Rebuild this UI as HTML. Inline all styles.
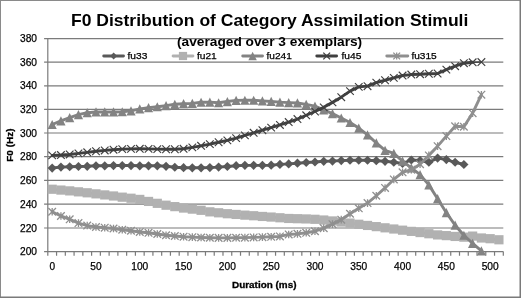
<!DOCTYPE html>
<html><head><meta charset="utf-8"><title>F0 Distribution of Category Assimilation Stimuli</title>
<style>
html,body{margin:0;padding:0;background:#fff;}
svg{display:block;}
text{font-family:"Liberation Sans",sans-serif;fill:#000;}
.t1{font-size:17px;font-weight:bold;}
.t2{font-size:13px;font-weight:bold;}
.ax{font-size:10.3px;stroke:#000;stroke-width:0.25px;}
.lg{font-size:9.9px;stroke:#000;stroke-width:0.25px;}
.at{font-size:9.5px;font-weight:bold;stroke:#000;stroke-width:0.3px;}
</style></head><body>
<svg width="521" height="298" viewBox="0 0 521 298">
<rect x="0" y="0" width="521" height="298" fill="#fff"/>
<g stroke="#7b7b7b" stroke-width="1.2" fill="none">
<path d="M44.1 38.7H503.3"/>
<path d="M44.1 62.2H503.3"/>
<path d="M44.1 85.8H503.3"/>
<path d="M44.1 109.4H503.3"/>
<path d="M44.1 133H503.3"/>
<path d="M44.1 156.6H503.3"/>
<path d="M44.1 180.3H503.3"/>
<path d="M44.1 204.1H503.3"/>
<path d="M44.1 228H503.3"/>
<path d="M44.1 251.6H503.3"/>
<path d="M47.8 38.6V251.6"/>
<path d="M47.8 251.6V255.8M56.56 251.6V255.8M65.32 251.6V255.8M74.08 251.6V255.8M82.84 251.6V255.8M91.6 251.6V255.8M100.36 251.6V255.8M109.12 251.6V255.8M117.88 251.6V255.8M126.64 251.6V255.8M135.4 251.6V255.8M144.16 251.6V255.8M152.92 251.6V255.8M161.68 251.6V255.8M170.43 251.6V255.8M179.19 251.6V255.8M187.95 251.6V255.8M196.71 251.6V255.8M205.47 251.6V255.8M214.23 251.6V255.8M222.99 251.6V255.8M231.75 251.6V255.8M240.51 251.6V255.8M249.27 251.6V255.8M258.03 251.6V255.8M266.79 251.6V255.8M275.55 251.6V255.8M284.31 251.6V255.8M293.07 251.6V255.8M301.83 251.6V255.8M310.59 251.6V255.8M319.35 251.6V255.8M328.11 251.6V255.8M336.87 251.6V255.8M345.63 251.6V255.8M354.39 251.6V255.8M363.15 251.6V255.8M371.91 251.6V255.8M380.67 251.6V255.8M389.43 251.6V255.8M398.18 251.6V255.8M406.94 251.6V255.8M415.7 251.6V255.8M424.46 251.6V255.8M433.22 251.6V255.8M441.98 251.6V255.8M450.74 251.6V255.8M459.5 251.6V255.8M468.26 251.6V255.8M477.02 251.6V255.8M485.78 251.6V255.8M494.54 251.6V255.8M503.3 251.6V255.8"/>
</g>
<polyline points="52.18,168.06 60.94,167.11 69.7,166.75 78.46,166.52 87.22,166.28 95.98,165.81 104.74,165.81 113.5,165.57 122.26,165.57 131.02,165.57 139.78,165.81 148.54,165.81 157.3,165.81 166.05,166.28 174.81,167.23 183.57,167.7 192.33,167.82 201.09,167.82 209.85,167.58 218.61,167.11 227.37,166.52 236.13,165.69 244.89,165.34 253.65,165.34 262.41,165.34 271.17,165.22 279.93,164.39 288.69,163.91 297.45,163.21 306.21,162.49 314.97,162.02 323.73,161.31 332.49,161.07 341.25,160.6 350.01,160.25 358.77,160.25 367.53,160.25 376.29,160.72 385.05,161.31 393.8,162.26 402.56,163.44 411.32,160.01 420.08,160.48 428.84,162.26 437.6,158.12 446.36,159.54 455.12,162.26 463.88,164.51" fill="none" stroke="#595959" stroke-width="2.9" stroke-linejoin="round" stroke-linecap="round"/>
<g fill="#595959">
<path d="M52.18 163.46L56.78 168.06L52.18 172.66L47.58 168.06Z"/>
<path d="M60.94 162.51L65.54 167.11L60.94 171.71L56.34 167.11Z"/>
<path d="M69.7 162.16L74.3 166.75L69.7 171.35L65.1 166.75Z"/>
<path d="M78.46 161.92L83.06 166.52L78.46 171.12L73.86 166.52Z"/>
<path d="M87.22 161.68L91.82 166.28L87.22 170.88L82.62 166.28Z"/>
<path d="M95.98 161.21L100.58 165.81L95.98 170.41L91.38 165.81Z"/>
<path d="M104.74 161.21L109.34 165.81L104.74 170.41L100.14 165.81Z"/>
<path d="M113.5 160.97L118.1 165.57L113.5 170.17L108.9 165.57Z"/>
<path d="M122.26 160.97L126.86 165.57L122.26 170.17L117.66 165.57Z"/>
<path d="M131.02 160.97L135.62 165.57L131.02 170.17L126.42 165.57Z"/>
<path d="M139.78 161.21L144.38 165.81L139.78 170.41L135.18 165.81Z"/>
<path d="M148.54 161.21L153.14 165.81L148.54 170.41L143.94 165.81Z"/>
<path d="M157.3 161.21L161.9 165.81L157.3 170.41L152.7 165.81Z"/>
<path d="M166.05 161.68L170.65 166.28L166.05 170.88L161.45 166.28Z"/>
<path d="M174.81 162.63L179.41 167.23L174.81 171.83L170.21 167.23Z"/>
<path d="M183.57 163.1L188.17 167.7L183.57 172.3L178.97 167.7Z"/>
<path d="M192.33 163.22L196.93 167.82L192.33 172.42L187.73 167.82Z"/>
<path d="M201.09 163.22L205.69 167.82L201.09 172.42L196.49 167.82Z"/>
<path d="M209.85 162.98L214.45 167.58L209.85 172.18L205.25 167.58Z"/>
<path d="M218.61 162.51L223.21 167.11L218.61 171.71L214.01 167.11Z"/>
<path d="M227.37 161.92L231.97 166.52L227.37 171.12L222.77 166.52Z"/>
<path d="M236.13 161.09L240.73 165.69L236.13 170.29L231.53 165.69Z"/>
<path d="M244.89 160.74L249.49 165.34L244.89 169.94L240.29 165.34Z"/>
<path d="M253.65 160.74L258.25 165.34L253.65 169.94L249.05 165.34Z"/>
<path d="M262.41 160.74L267.01 165.34L262.41 169.94L257.81 165.34Z"/>
<path d="M271.17 160.62L275.77 165.22L271.17 169.82L266.57 165.22Z"/>
<path d="M279.93 159.79L284.53 164.39L279.93 168.99L275.33 164.39Z"/>
<path d="M288.69 159.31L293.29 163.91L288.69 168.51L284.09 163.91Z"/>
<path d="M297.45 158.61L302.05 163.21L297.45 167.81L292.85 163.21Z"/>
<path d="M306.21 157.89L310.81 162.49L306.21 167.09L301.61 162.49Z"/>
<path d="M314.97 157.42L319.57 162.02L314.97 166.62L310.37 162.02Z"/>
<path d="M323.73 156.71L328.33 161.31L323.73 165.91L319.13 161.31Z"/>
<path d="M332.49 156.47L337.09 161.07L332.49 165.67L327.89 161.07Z"/>
<path d="M341.25 156L345.85 160.6L341.25 165.2L336.65 160.6Z"/>
<path d="M350.01 155.65L354.61 160.25L350.01 164.85L345.41 160.25Z"/>
<path d="M358.77 155.65L363.37 160.25L358.77 164.85L354.17 160.25Z"/>
<path d="M367.53 155.65L372.13 160.25L367.53 164.85L362.93 160.25Z"/>
<path d="M376.29 156.12L380.89 160.72L376.29 165.32L371.69 160.72Z"/>
<path d="M385.05 156.71L389.65 161.31L385.05 165.91L380.45 161.31Z"/>
<path d="M393.8 157.66L398.4 162.26L393.8 166.86L389.2 162.26Z"/>
<path d="M402.56 158.84L407.16 163.44L402.56 168.04L397.96 163.44Z"/>
<path d="M411.32 155.41L415.92 160.01L411.32 164.61L406.72 160.01Z"/>
<path d="M420.08 155.88L424.68 160.48L420.08 165.08L415.48 160.48Z"/>
<path d="M428.84 157.66L433.44 162.26L428.84 166.86L424.24 162.26Z"/>
<path d="M437.6 153.52L442.2 158.12L437.6 162.72L433 158.12Z"/>
<path d="M446.36 154.94L450.96 159.54L446.36 164.14L441.76 159.54Z"/>
<path d="M455.12 157.66L459.72 162.26L455.12 166.86L450.52 162.26Z"/>
<path d="M463.88 159.91L468.48 164.51L463.88 169.11L459.28 164.51Z"/>
</g>
<polyline points="52.18,189.24 60.94,190.07 69.7,190.89 78.46,191.84 87.22,192.79 95.98,193.85 104.74,194.92 113.5,195.98 122.26,197.17 131.02,198.23 139.78,199.41 148.54,201.43 157.3,203.32 166.05,205.21 174.81,206.63 183.57,208.05 192.33,209.12 201.09,210.3 209.85,211.84 218.61,212.79 227.37,213.73 236.13,214.44 244.89,215.15 253.65,215.74 262.41,216.46 271.17,217.05 279.93,217.76 288.69,218.47 297.45,218.7 306.21,218.94 314.97,219.29 323.73,220 332.49,220.95 341.25,222.02 350.01,223.08 358.77,224.26 367.53,225.45 376.29,226.63 385.05,227.81 393.8,229 402.56,230.18 411.32,231.37 420.08,232.55 428.84,233.73 437.6,234.91 446.36,235.62 455.12,236.45 463.88,237.16 472.64,236.1 481.4,237.99 490.16,238.7 498.92,239.77" fill="none" stroke="#b1b1b1" stroke-width="2.9" stroke-linejoin="round" stroke-linecap="round"/>
<g fill="#b1b1b1">
<rect x="47.58" y="184.64" width="9.2" height="9.2"/>
<rect x="56.34" y="185.47" width="9.2" height="9.2"/>
<rect x="65.1" y="186.29" width="9.2" height="9.2"/>
<rect x="73.86" y="187.24" width="9.2" height="9.2"/>
<rect x="82.62" y="188.19" width="9.2" height="9.2"/>
<rect x="91.38" y="189.25" width="9.2" height="9.2"/>
<rect x="100.14" y="190.32" width="9.2" height="9.2"/>
<rect x="108.9" y="191.38" width="9.2" height="9.2"/>
<rect x="117.66" y="192.57" width="9.2" height="9.2"/>
<rect x="126.42" y="193.63" width="9.2" height="9.2"/>
<rect x="135.18" y="194.81" width="9.2" height="9.2"/>
<rect x="143.94" y="196.83" width="9.2" height="9.2"/>
<rect x="152.7" y="198.72" width="9.2" height="9.2"/>
<rect x="161.45" y="200.61" width="9.2" height="9.2"/>
<rect x="170.21" y="202.03" width="9.2" height="9.2"/>
<rect x="178.97" y="203.45" width="9.2" height="9.2"/>
<rect x="187.73" y="204.52" width="9.2" height="9.2"/>
<rect x="196.49" y="205.7" width="9.2" height="9.2"/>
<rect x="205.25" y="207.24" width="9.2" height="9.2"/>
<rect x="214.01" y="208.19" width="9.2" height="9.2"/>
<rect x="222.77" y="209.13" width="9.2" height="9.2"/>
<rect x="231.53" y="209.84" width="9.2" height="9.2"/>
<rect x="240.29" y="210.55" width="9.2" height="9.2"/>
<rect x="249.05" y="211.14" width="9.2" height="9.2"/>
<rect x="257.81" y="211.86" width="9.2" height="9.2"/>
<rect x="266.57" y="212.45" width="9.2" height="9.2"/>
<rect x="275.33" y="213.16" width="9.2" height="9.2"/>
<rect x="284.09" y="213.87" width="9.2" height="9.2"/>
<rect x="292.85" y="214.1" width="9.2" height="9.2"/>
<rect x="301.61" y="214.34" width="9.2" height="9.2"/>
<rect x="310.37" y="214.69" width="9.2" height="9.2"/>
<rect x="319.13" y="215.41" width="9.2" height="9.2"/>
<rect x="327.89" y="216.35" width="9.2" height="9.2"/>
<rect x="336.65" y="217.42" width="9.2" height="9.2"/>
<rect x="345.41" y="218.48" width="9.2" height="9.2"/>
<rect x="354.17" y="219.66" width="9.2" height="9.2"/>
<rect x="362.93" y="220.85" width="9.2" height="9.2"/>
<rect x="371.69" y="222.03" width="9.2" height="9.2"/>
<rect x="380.45" y="223.22" width="9.2" height="9.2"/>
<rect x="389.2" y="224.4" width="9.2" height="9.2"/>
<rect x="397.96" y="225.58" width="9.2" height="9.2"/>
<rect x="406.72" y="226.77" width="9.2" height="9.2"/>
<rect x="415.48" y="227.95" width="9.2" height="9.2"/>
<rect x="424.24" y="229.13" width="9.2" height="9.2"/>
<rect x="433" y="230.31" width="9.2" height="9.2"/>
<rect x="441.76" y="231.03" width="9.2" height="9.2"/>
<rect x="450.52" y="231.85" width="9.2" height="9.2"/>
<rect x="459.28" y="232.56" width="9.2" height="9.2"/>
<rect x="468.04" y="231.5" width="9.2" height="9.2"/>
<rect x="476.8" y="233.39" width="9.2" height="9.2"/>
<rect x="485.56" y="234.1" width="9.2" height="9.2"/>
<rect x="494.32" y="235.17" width="9.2" height="9.2"/>
</g>
<polyline points="52.18,124.51 60.94,120.84 69.7,117.65 78.46,114.69 87.22,112.68 95.98,111.97 104.74,111.97 113.5,111.97 122.26,111.73 131.02,110.9 139.78,108.89 148.54,107.71 157.3,106.76 166.05,105.69 174.81,104.28 183.57,103.68 192.33,103.33 201.09,102.26 209.85,102.14 218.61,102.74 227.37,101.55 236.13,100.37 244.89,100.25 253.65,100.25 262.41,100.84 271.17,101.44 279.93,102.14 288.69,102.62 297.45,102.97 306.21,104.39 314.97,106.17 323.73,109.84 332.49,113.62 341.25,118 350.01,122.5 358.77,128.06 367.53,134.92 376.29,142.97 385.05,150.31 393.8,153.38 402.56,161.07 411.32,167.82 420.08,174.68 428.84,184.86 437.6,198.71 446.36,212.67 455.12,225.21 463.88,235.27 472.64,243.32 481.4,250.89" fill="none" stroke="#838383" stroke-width="2.9" stroke-linejoin="round" stroke-linecap="round"/>
<g fill="#838383">
<path d="M52.18 119.91L56.78 129.11L47.58 129.11Z"/>
<path d="M60.94 116.24L65.54 125.44L56.34 125.44Z"/>
<path d="M69.7 113.05L74.3 122.25L65.1 122.25Z"/>
<path d="M78.46 110.09L83.06 119.29L73.86 119.29Z"/>
<path d="M87.22 108.08L91.82 117.28L82.62 117.28Z"/>
<path d="M95.98 107.37L100.58 116.57L91.38 116.57Z"/>
<path d="M104.74 107.37L109.34 116.57L100.14 116.57Z"/>
<path d="M113.5 107.37L118.1 116.57L108.9 116.57Z"/>
<path d="M122.26 107.13L126.86 116.33L117.66 116.33Z"/>
<path d="M131.02 106.3L135.62 115.5L126.42 115.5Z"/>
<path d="M139.78 104.29L144.38 113.49L135.18 113.49Z"/>
<path d="M148.54 103.11L153.14 112.31L143.94 112.31Z"/>
<path d="M157.3 102.16L161.9 111.36L152.7 111.36Z"/>
<path d="M166.05 101.09L170.65 110.29L161.45 110.29Z"/>
<path d="M174.81 99.68L179.41 108.88L170.21 108.88Z"/>
<path d="M183.57 99.08L188.17 108.28L178.97 108.28Z"/>
<path d="M192.33 98.73L196.93 107.93L187.73 107.93Z"/>
<path d="M201.09 97.66L205.69 106.86L196.49 106.86Z"/>
<path d="M209.85 97.54L214.45 106.74L205.25 106.74Z"/>
<path d="M218.61 98.14L223.21 107.34L214.01 107.34Z"/>
<path d="M227.37 96.95L231.97 106.15L222.77 106.15Z"/>
<path d="M236.13 95.77L240.73 104.97L231.53 104.97Z"/>
<path d="M244.89 95.65L249.49 104.85L240.29 104.85Z"/>
<path d="M253.65 95.65L258.25 104.85L249.05 104.85Z"/>
<path d="M262.41 96.24L267.01 105.44L257.81 105.44Z"/>
<path d="M271.17 96.84L275.77 106.04L266.57 106.04Z"/>
<path d="M279.93 97.54L284.53 106.74L275.33 106.74Z"/>
<path d="M288.69 98.02L293.29 107.22L284.09 107.22Z"/>
<path d="M297.45 98.37L302.05 107.57L292.85 107.57Z"/>
<path d="M306.21 99.79L310.81 108.99L301.61 108.99Z"/>
<path d="M314.97 101.57L319.57 110.77L310.37 110.77Z"/>
<path d="M323.73 105.24L328.33 114.44L319.13 114.44Z"/>
<path d="M332.49 109.02L337.09 118.22L327.89 118.22Z"/>
<path d="M341.25 113.4L345.85 122.6L336.65 122.6Z"/>
<path d="M350.01 117.9L354.61 127.1L345.41 127.1Z"/>
<path d="M358.77 123.46L363.37 132.66L354.17 132.66Z"/>
<path d="M367.53 130.32L372.13 139.52L362.93 139.52Z"/>
<path d="M376.29 138.37L380.89 147.57L371.69 147.57Z"/>
<path d="M385.05 145.71L389.65 154.91L380.45 154.91Z"/>
<path d="M393.8 148.78L398.4 157.98L389.2 157.98Z"/>
<path d="M402.56 156.47L407.16 165.67L397.96 165.67Z"/>
<path d="M411.32 163.22L415.92 172.42L406.72 172.42Z"/>
<path d="M420.08 170.08L424.68 179.28L415.48 179.28Z"/>
<path d="M428.84 180.26L433.44 189.46L424.24 189.46Z"/>
<path d="M437.6 194.11L442.2 203.31L433 203.31Z"/>
<path d="M446.36 208.07L450.96 217.27L441.76 217.27Z"/>
<path d="M455.12 220.61L459.72 229.81L450.52 229.81Z"/>
<path d="M463.88 230.67L468.48 239.87L459.28 239.87Z"/>
<path d="M472.64 238.72L477.24 247.92L468.04 247.92Z"/>
<path d="M481.4 246.29L486 255.49L476.8 255.49Z"/>
</g>
<polyline points="52.18,155.39 60.94,155.04 69.7,154.45 78.46,153.38 87.22,152.32 95.98,151.25 104.74,150.43 113.5,149.71 122.26,149.12 131.02,148.89 139.78,148.77 148.54,148.89 157.3,149.12 166.05,149.24 174.81,149.24 183.57,148.77 192.33,147.35 201.09,145.81 209.85,144.15 218.61,142.26 227.37,140.37 236.13,138.12 244.89,135.4 253.65,132.79 262.41,130.19 271.17,127.59 279.93,124.98 288.69,122.03 297.45,119.07 306.21,115.28 314.97,111.49 323.73,107.35 332.49,102.38 341.25,97.17 350.01,91.14 358.77,86.88 367.53,86.17 376.29,82.62 385.05,80.25 393.8,77.89 402.56,75.52 411.32,74.57 420.08,74.22 428.84,73.74 437.6,73.51 446.36,69.6 455.12,66.17 463.88,63.21 472.64,62.27" fill="none" stroke="#404040" stroke-width="2.9" stroke-linejoin="round" stroke-linecap="round"/>
<path d="M472.64 62.27L481.4 62.03" fill="none" stroke="#404040" stroke-width="1.4"/>
<g fill="none" stroke="#404040" stroke-width="1.15">
<path d="M48.38 151.59L55.98 159.19M48.38 159.19L55.98 151.59"/>
<path d="M57.14 151.24L64.74 158.84M57.14 158.84L64.74 151.24"/>
<path d="M65.9 150.65L73.5 158.25M65.9 158.25L73.5 150.65"/>
<path d="M74.66 149.58L82.26 157.18M74.66 157.18L82.26 149.58"/>
<path d="M83.42 148.52L91.02 156.12M83.42 156.12L91.02 148.52"/>
<path d="M92.18 147.45L99.78 155.05M92.18 155.05L99.78 147.45"/>
<path d="M100.94 146.62L108.54 154.23M100.94 154.23L108.54 146.62"/>
<path d="M109.7 145.91L117.3 153.51M109.7 153.51L117.3 145.91"/>
<path d="M118.46 145.32L126.06 152.92M118.46 152.92L126.06 145.32"/>
<path d="M127.22 145.09L134.82 152.69M127.22 152.69L134.82 145.09"/>
<path d="M135.98 144.97L143.58 152.57M135.98 152.57L143.58 144.97"/>
<path d="M144.74 145.09L152.34 152.69M144.74 152.69L152.34 145.09"/>
<path d="M153.5 145.32L161.1 152.92M153.5 152.92L161.1 145.32"/>
<path d="M162.25 145.44L169.85 153.04M162.25 153.04L169.85 145.44"/>
<path d="M171.01 145.44L178.61 153.04M171.01 153.04L178.61 145.44"/>
<path d="M179.77 144.97L187.37 152.57M179.77 152.57L187.37 144.97"/>
<path d="M188.53 143.55L196.13 151.15M188.53 151.15L196.13 143.55"/>
<path d="M197.29 142.01L204.89 149.61M197.29 149.61L204.89 142.01"/>
<path d="M206.05 140.35L213.65 147.95M206.05 147.95L213.65 140.35"/>
<path d="M214.81 138.46L222.41 146.06M214.81 146.06L222.41 138.46"/>
<path d="M223.57 136.57L231.17 144.17M223.57 144.17L231.17 136.57"/>
<path d="M232.33 134.32L239.93 141.92M232.33 141.92L239.93 134.32"/>
<path d="M241.09 131.6L248.69 139.2M241.09 139.2L248.69 131.6"/>
<path d="M249.85 128.99L257.45 136.59M249.85 136.59L257.45 128.99"/>
<path d="M258.61 126.39L266.21 133.99M258.61 133.99L266.21 126.39"/>
<path d="M267.37 123.79L274.97 131.39M267.37 131.39L274.97 123.79"/>
<path d="M276.13 121.18L283.73 128.78M276.13 128.78L283.73 121.18"/>
<path d="M284.89 118.23L292.49 125.83M284.89 125.83L292.49 118.23"/>
<path d="M293.65 115.27L301.25 122.87M293.65 122.87L301.25 115.27"/>
<path d="M302.41 111.48L310.01 119.08M302.41 119.08L310.01 111.48"/>
<path d="M311.17 107.69L318.77 115.29M311.17 115.29L318.77 107.69"/>
<path d="M319.93 103.55L327.53 111.15M319.93 111.15L327.53 103.55"/>
<path d="M328.69 98.58L336.29 106.18M328.69 106.18L336.29 98.58"/>
<path d="M337.45 93.37L345.05 100.97M337.45 100.97L345.05 93.37"/>
<path d="M346.21 87.34L353.81 94.94M346.21 94.94L353.81 87.34"/>
<path d="M354.97 83.08L362.57 90.68M354.97 90.68L362.57 83.08"/>
<path d="M363.73 82.37L371.33 89.97M363.73 89.97L371.33 82.37"/>
<path d="M372.49 78.82L380.09 86.42M372.49 86.42L380.09 78.82"/>
<path d="M381.25 76.45L388.85 84.05M381.25 84.05L388.85 76.45"/>
<path d="M390 74.09L397.6 81.69M390 81.69L397.6 74.09"/>
<path d="M398.76 71.72L406.36 79.32M398.76 79.32L406.36 71.72"/>
<path d="M407.52 70.77L415.12 78.37M407.52 78.37L415.12 70.77"/>
<path d="M416.28 70.42L423.88 78.02M416.28 78.02L423.88 70.42"/>
<path d="M425.04 69.94L432.64 77.54M425.04 77.54L432.64 69.94"/>
<path d="M433.8 69.71L441.4 77.31M433.8 77.31L441.4 69.71"/>
<path d="M442.56 65.8L450.16 73.4M442.56 73.4L450.16 65.8"/>
<path d="M451.32 62.37L458.92 69.97M451.32 69.97L458.92 62.37"/>
<path d="M460.08 59.41L467.68 67.01M460.08 67.01L467.68 59.41"/>
<path d="M468.84 58.47L476.44 66.07M468.84 66.07L476.44 58.47"/>
<path d="M477.6 58.23L485.2 65.83M477.6 65.83L485.2 58.23"/>
</g>
<polyline points="52.18,211.72 60.94,215.98 69.7,219.29 78.46,223.08 87.22,225.57 95.98,226.99 104.74,227.7 113.5,228.53 122.26,229.71 131.02,230.77 139.78,231.96 148.54,232.78 157.3,233.97 166.05,235.27 174.81,235.98 183.57,236.69 192.33,237.16 201.09,237.52 209.85,237.75 218.61,237.87 227.37,237.87 236.13,237.75 244.89,237.64 253.65,237.4 262.41,237.16 271.17,236.81 279.93,236.45 288.69,234.44 297.45,233.85 306.21,232.78 314.97,231.25 323.73,228.17 332.49,224.15 341.25,219.65 350.01,213.73 358.77,208.29 367.53,203.08 376.29,195.75 385.05,187.94 393.8,179.42 402.56,172.32 411.32,169.71 420.08,164.27 428.84,155.39 437.6,146.16 446.36,136.11 455.12,126.29 463.88,126.76 472.64,113.15 481.4,94.69" fill="none" stroke="#8f8f8f" stroke-width="2.9" stroke-linejoin="round" stroke-linecap="round"/>
<g fill="none" stroke="#8f8f8f" stroke-width="1.3">
<path d="M48.38 207.92L55.98 215.52M48.38 215.52L55.98 207.92M52.18 207.92L52.18 215.52"/>
<path d="M57.14 212.18L64.74 219.78M57.14 219.78L64.74 212.18M60.94 212.18L60.94 219.78"/>
<path d="M65.9 215.49L73.5 223.09M65.9 223.09L73.5 215.49M69.7 215.49L69.7 223.09"/>
<path d="M74.66 219.28L82.26 226.88M74.66 226.88L82.26 219.28M78.46 219.28L78.46 226.88"/>
<path d="M83.42 221.77L91.02 229.37M83.42 229.37L91.02 221.77M87.22 221.77L87.22 229.37"/>
<path d="M92.18 223.19L99.78 230.79M92.18 230.79L99.78 223.19M95.98 223.19L95.98 230.79"/>
<path d="M100.94 223.9L108.54 231.5M100.94 231.5L108.54 223.9M104.74 223.9L104.74 231.5"/>
<path d="M109.7 224.72L117.3 232.33M109.7 232.33L117.3 224.72M113.5 224.72L113.5 232.33"/>
<path d="M118.46 225.91L126.06 233.51M118.46 233.51L126.06 225.91M122.26 225.91L122.26 233.51"/>
<path d="M127.22 226.97L134.82 234.57M127.22 234.57L134.82 226.97M131.02 226.97L131.02 234.57"/>
<path d="M135.98 228.16L143.58 235.76M135.98 235.76L143.58 228.16M139.78 228.16L139.78 235.76"/>
<path d="M144.74 228.98L152.34 236.59M144.74 236.59L152.34 228.98M148.54 228.98L148.54 236.59"/>
<path d="M153.5 230.17L161.1 237.77M153.5 237.77L161.1 230.17M157.3 230.17L157.3 237.77"/>
<path d="M162.25 231.47L169.85 239.07M162.25 239.07L169.85 231.47M166.05 231.47L166.05 239.07"/>
<path d="M171.01 232.18L178.61 239.78M171.01 239.78L178.61 232.18M174.81 232.18L174.81 239.78"/>
<path d="M179.77 232.89L187.37 240.49M179.77 240.49L187.37 232.89M183.57 232.89L183.57 240.49"/>
<path d="M188.53 233.36L196.13 240.96M188.53 240.96L196.13 233.36M192.33 233.36L192.33 240.96"/>
<path d="M197.29 233.72L204.89 241.32M197.29 241.32L204.89 233.72M201.09 233.72L201.09 241.32"/>
<path d="M206.05 233.95L213.65 241.56M206.05 241.56L213.65 233.95M209.85 233.95L209.85 241.56"/>
<path d="M214.81 234.07L222.41 241.67M214.81 241.67L222.41 234.07M218.61 234.07L218.61 241.67"/>
<path d="M223.57 234.07L231.17 241.67M223.57 241.67L231.17 234.07M227.37 234.07L227.37 241.67"/>
<path d="M232.33 233.95L239.93 241.56M232.33 241.56L239.93 233.95M236.13 233.95L236.13 241.56"/>
<path d="M241.09 233.84L248.69 241.44M241.09 241.44L248.69 233.84M244.89 233.84L244.89 241.44"/>
<path d="M249.85 233.6L257.45 241.2M249.85 241.2L257.45 233.6M253.65 233.6L253.65 241.2"/>
<path d="M258.61 233.36L266.21 240.96M258.61 240.96L266.21 233.36M262.41 233.36L262.41 240.96"/>
<path d="M267.37 233.01L274.97 240.61M267.37 240.61L274.97 233.01M271.17 233.01L271.17 240.61"/>
<path d="M276.13 232.65L283.73 240.25M276.13 240.25L283.73 232.65M279.93 232.65L279.93 240.25"/>
<path d="M284.89 230.64L292.49 238.24M284.89 238.24L292.49 230.64M288.69 230.64L288.69 238.24"/>
<path d="M293.65 230.05L301.25 237.65M293.65 237.65L301.25 230.05M297.45 230.05L297.45 237.65"/>
<path d="M302.41 228.98L310.01 236.59M302.41 236.59L310.01 228.98M306.21 228.98L306.21 236.59"/>
<path d="M311.17 227.45L318.77 235.05M311.17 235.05L318.77 227.45M314.97 227.45L314.97 235.05"/>
<path d="M319.93 224.37L327.53 231.97M319.93 231.97L327.53 224.37M323.73 224.37L323.73 231.97"/>
<path d="M328.69 220.35L336.29 227.95M328.69 227.95L336.29 220.35M332.49 220.35L332.49 227.95"/>
<path d="M337.45 215.85L345.05 223.45M337.45 223.45L345.05 215.85M341.25 215.85L341.25 223.45"/>
<path d="M346.21 209.93L353.81 217.53M346.21 217.53L353.81 209.93M350.01 209.93L350.01 217.53"/>
<path d="M354.97 204.49L362.57 212.09M354.97 212.09L362.57 204.49M358.77 204.49L358.77 212.09"/>
<path d="M363.73 199.28L371.33 206.88M363.73 206.88L371.33 199.28M367.53 199.28L367.53 206.88"/>
<path d="M372.49 191.95L380.09 199.55M372.49 199.55L380.09 191.95M376.29 191.95L376.29 199.55"/>
<path d="M381.25 184.14L388.85 191.74M381.25 191.74L388.85 184.14M385.05 184.14L385.05 191.74"/>
<path d="M390 175.62L397.6 183.22M390 183.22L397.6 175.62M393.8 175.62L393.8 183.22"/>
<path d="M398.76 168.52L406.36 176.12M398.76 176.12L406.36 168.52M402.56 168.52L402.56 176.12"/>
<path d="M407.52 165.91L415.12 173.51M407.52 173.51L415.12 165.91M411.32 165.91L411.32 173.51"/>
<path d="M416.28 160.47L423.88 168.07M416.28 168.07L423.88 160.47M420.08 160.47L420.08 168.07"/>
<path d="M425.04 151.59L432.64 159.19M425.04 159.19L432.64 151.59M428.84 151.59L428.84 159.19"/>
<path d="M433.8 142.36L441.4 149.96M433.8 149.96L441.4 142.36M437.6 142.36L437.6 149.96"/>
<path d="M442.56 132.31L450.16 139.91M442.56 139.91L450.16 132.31M446.36 132.31L446.36 139.91"/>
<path d="M451.32 122.49L458.92 130.09M451.32 130.09L458.92 122.49M455.12 122.49L455.12 130.09"/>
<path d="M460.08 122.96L467.68 130.56M460.08 130.56L467.68 122.96M463.88 122.96L463.88 130.56"/>
<path d="M468.84 109.35L476.44 116.95M468.84 116.95L476.44 109.35M472.64 109.35L472.64 116.95"/>
<path d="M477.6 90.89L485.2 98.49M477.6 98.49L485.2 90.89M481.4 90.89L481.4 98.49"/>
</g>
<path d="M103.7 56H123.5" stroke="#595959" stroke-width="2.9" stroke-linecap="round" fill="none"/>
<g fill="#595959">
<path d="M113.6 52.5L117.1 56L113.6 59.5L110.1 56Z"/>
</g>
<text x="127.5" y="59.45" class="lg" textLength="19.9" lengthAdjust="spacingAndGlyphs">fu33</text>
<path d="M173.1 56H192.9" stroke="#b1b1b1" stroke-width="2.9" stroke-linecap="round" fill="none"/>
<g fill="#b1b1b1">
<rect x="178.9" y="51.9" width="8.2" height="8.2"/>
</g>
<text x="196.9" y="59.45" class="lg" textLength="19.9" lengthAdjust="spacingAndGlyphs">fu21</text>
<path d="M242.7 56H262.5" stroke="#838383" stroke-width="2.9" stroke-linecap="round" fill="none"/>
<g fill="#838383">
<path d="M252.6 51.8L256.8 60.2L248.4 60.2Z"/>
</g>
<text x="266.5" y="59.45" class="lg" textLength="25.3" lengthAdjust="spacingAndGlyphs">fu241</text>
<path d="M316.8 56H336.6" stroke="#404040" stroke-width="2.9" stroke-linecap="round" fill="none"/>
<g fill="none" stroke="#404040" stroke-width="1.3">
<path d="M323.3 52.6L330.1 59.4M323.3 59.4L330.1 52.6"/>
</g>
<text x="341.5" y="59.45" class="lg" textLength="19.9" lengthAdjust="spacingAndGlyphs">fu45</text>
<path d="M386.8 56H407.8" stroke="#8f8f8f" stroke-width="2.9" stroke-linecap="round" fill="none"/>
<g fill="none" stroke="#8f8f8f" stroke-width="1.3">
<path d="M393.3 52.6L400.1 59.4M393.3 59.4L400.1 52.6M396.7 52.6L396.7 59.4"/>
</g>
<text x="411.4" y="59.45" class="lg" textLength="25.3" lengthAdjust="spacingAndGlyphs">fu315</text>
<text x="269.65" y="25.6" class="t1" text-anchor="middle" textLength="397.4" lengthAdjust="spacingAndGlyphs">F0 Distribution of Category Assimilation Stimuli</text>
<text x="269.6" y="45.9" class="t2" text-anchor="middle" textLength="185.2" lengthAdjust="spacingAndGlyphs">(averaged over 3 exemplars)</text>
<text x="37.0" y="42.3" class="ax" text-anchor="end" textLength="17" lengthAdjust="spacingAndGlyphs">380</text>
<text x="37.0" y="65.8" class="ax" text-anchor="end" textLength="17" lengthAdjust="spacingAndGlyphs">360</text>
<text x="37.0" y="89.4" class="ax" text-anchor="end" textLength="17" lengthAdjust="spacingAndGlyphs">340</text>
<text x="37.0" y="113" class="ax" text-anchor="end" textLength="17" lengthAdjust="spacingAndGlyphs">320</text>
<text x="37.0" y="136.6" class="ax" text-anchor="end" textLength="17" lengthAdjust="spacingAndGlyphs">300</text>
<text x="37.0" y="160.2" class="ax" text-anchor="end" textLength="17" lengthAdjust="spacingAndGlyphs">280</text>
<text x="37.0" y="183.9" class="ax" text-anchor="end" textLength="17" lengthAdjust="spacingAndGlyphs">260</text>
<text x="37.0" y="207.7" class="ax" text-anchor="end" textLength="17" lengthAdjust="spacingAndGlyphs">240</text>
<text x="37.0" y="231.6" class="ax" text-anchor="end" textLength="17" lengthAdjust="spacingAndGlyphs">220</text>
<text x="37.0" y="255.2" class="ax" text-anchor="end" textLength="17" lengthAdjust="spacingAndGlyphs">200</text>
<text x="52.18" y="269.6" class="ax" text-anchor="middle" textLength="5.6" lengthAdjust="spacingAndGlyphs">0</text>
<text x="95.98" y="269.6" class="ax" text-anchor="middle" textLength="11.3" lengthAdjust="spacingAndGlyphs">50</text>
<text x="139.78" y="269.6" class="ax" text-anchor="middle" textLength="17" lengthAdjust="spacingAndGlyphs">100</text>
<text x="183.57" y="269.6" class="ax" text-anchor="middle" textLength="17" lengthAdjust="spacingAndGlyphs">150</text>
<text x="227.37" y="269.6" class="ax" text-anchor="middle" textLength="17" lengthAdjust="spacingAndGlyphs">200</text>
<text x="271.17" y="269.6" class="ax" text-anchor="middle" textLength="17" lengthAdjust="spacingAndGlyphs">250</text>
<text x="314.97" y="269.6" class="ax" text-anchor="middle" textLength="17" lengthAdjust="spacingAndGlyphs">300</text>
<text x="358.77" y="269.6" class="ax" text-anchor="middle" textLength="17" lengthAdjust="spacingAndGlyphs">350</text>
<text x="402.56" y="269.6" class="ax" text-anchor="middle" textLength="17" lengthAdjust="spacingAndGlyphs">400</text>
<text x="446.36" y="269.6" class="ax" text-anchor="middle" textLength="17" lengthAdjust="spacingAndGlyphs">450</text>
<text x="490.16" y="269.6" class="ax" text-anchor="middle" textLength="17" lengthAdjust="spacingAndGlyphs">500</text>
<text x="264.25" y="287.5" class="at" text-anchor="middle" textLength="64.4" lengthAdjust="spacingAndGlyphs">Duration (ms)</text>
<text transform="translate(13.3 145.15) rotate(-90)" class="at" text-anchor="middle" textLength="33.2" lengthAdjust="spacingAndGlyphs">F0 (Hz)</text>
<path d="M0.5 0V298M0 0.5H521" stroke="#8a8a8a" stroke-width="1" fill="none"/>
<path d="M520.25 0V298M0 297.25H521" stroke="#7a7a7a" stroke-width="1.5" fill="none"/>
</svg>
</body></html>
